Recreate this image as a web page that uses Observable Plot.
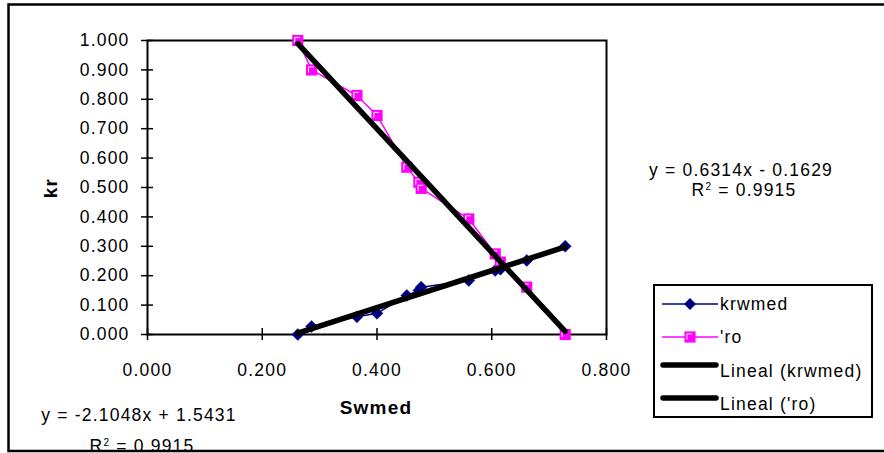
<!DOCTYPE html>
<html>
<head>
<meta charset="utf-8">
<script src="https://cdn.jsdelivr.net/npm/d3@7"></script>
<script src="https://cdn.jsdelivr.net/npm/@observablehq/plot@0.6"></script>
<style>
  html, body { margin: 0; padding: 0; background: #fff; }
  #chart { position: relative; width: 884px; height: 453px; }
</style>
</head>
<body>
<div id="chart"></div>
<script>
// ---- data ----
const swmed  = [0.262, 0.286, 0.365, 0.400, 0.452, 0.473, 0.477, 0.560, 0.606, 0.615, 0.661, 0.728];
const krwmed = [0.000, 0.027, 0.060, 0.072, 0.133, 0.150, 0.161, 0.184, 0.218, 0.222, 0.252, 0.300];
const kro    = [1.000, 0.900, 0.813, 0.745, 0.569, 0.518, 0.497, 0.393, 0.274, 0.246, 0.161, 0.000];
const xTicks = [0, 0.2, 0.4, 0.6, 0.8];
const yTicks = [0, 0.1, 0.2, 0.3, 0.4, 0.5, 0.6, 0.7, 0.8, 0.9, 1.0];
const seriesNames = ["krwmed", "'ro", "Lineal (krwmed)", "Lineal ('ro)"];
const eqKrw = ["y = 0.6314x - 0.1629", "0.9915"];
const eqRo  = ["y = -2.1048x + 1.5431", "0.9915"];

const krwData = swmed.map((x, i) => ({x, y: krwmed[i]}));
const roData  = swmed.map((x, i) => ({x, y: kro[i]}));

const NAVY = "#000080", MAG = "#ff00ff";
const FONT = "'Liberation Sans', Arial, sans-serif";

const gamma = {
  draw(ctx, size) {
    const s = Math.sqrt(size) / 2;
    ctx.moveTo(-s + 2.5, s - 3);
    ctx.lineTo(-s + 2.5, -s + 2.5);
    ctx.lineTo(s - 3.5, -s + 2.5);
  }
};

const plot = Plot.plot({
  width: 884,
  height: 453,
  marginLeft: 147,
  marginRight: 278,
  marginTop: 40,
  marginBottom: 119,
  style: {fontFamily: FONT, fontSize: "17.5px", letterSpacing: "1.2px", color: "#000", background: "#fff"},
  x: {domain: [0, 0.8]},
  y: {domain: [0, 1]},
  marks: [
    Plot.frame({stroke: "#000", strokeWidth: 2}),
    Plot.axisY({ticks: yTicks, tickFormat: d3.format(".3f"), tickSize: 6, tickPadding: 12, label: null, strokeWidth: 1.5}),
    Plot.axisY({ticks: yTicks, tickFormat: null, text: null, tickSize: 6, dx: 6, label: null, strokeWidth: 1.5}),
    Plot.axisX({ticks: xTicks, tickFormat: d3.format(".3f"), tickSize: 6, tickPadding: 23, label: null, strokeWidth: 1.5}),
    Plot.axisX({ticks: xTicks, tickFormat: null, text: null, tickSize: 6, dy: -6, label: null, strokeWidth: 1.5}),
    Plot.line(krwData, {x: "x", y: "y", stroke: NAVY, strokeWidth: 1.5}),
    Plot.dot(krwData, {x: "x", y: "y", symbol: "diamond2", r: 5.4, fill: NAVY, stroke: NAVY, strokeWidth: 0.5}),
    Plot.line(roData, {x: "x", y: "y", stroke: MAG, strokeWidth: 1.5}),
    Plot.dot(roData, {x: "x", y: "y", symbol: "square", r: 6.3, fill: MAG}),
    Plot.dot(roData, {x: "x", y: "y", symbol: gamma, r: 6.3, fill: "none", stroke: "#fff", strokeWidth: 1}),
    Plot.linearRegressionY(krwData, {x: "x", y: "y", stroke: "#000", strokeWidth: 5.5, ci: 0, strokeLinecap: "round"}),
    Plot.linearRegressionY(roData, {x: "x", y: "y", stroke: "#000", strokeWidth: 5.5, ci: 0, strokeLinecap: "round"})
  ]
});

document.getElementById("chart").appendChild(plot);

const svg = d3.select(plot);
const txt = (x, y, s, opts = {}) => {
  const t = svg.append("text")
    .attr("x", x).attr("y", y)
    .attr("font-family", FONT)
    .attr("font-size", opts.size || "17.5px")
    .attr("letter-spacing", "1.2px")
    .attr("font-weight", opts.bold ? "bold" : "normal")
    .attr("text-anchor", opts.anchor || "start")
    .attr("fill", "#000");
  if (opts.rotate) t.attr("transform", `rotate(-90 ${x} ${y})`);
  t.text(s);
  return t;
};

// axis titles
txt(376, 414, "Swmed", {bold: true, anchor: "middle", size: "19px"});
txt(57, 188, "kr", {bold: true, anchor: "middle", size: "19px", rotate: true});

// trendline equations
txt(741, 176, eqKrw[0], {anchor: "middle"});
const r1 = txt(744, 196, "", {anchor: "middle"});
r1.append("tspan").text("R");
r1.append("tspan").attr("dy", -6).attr("font-size", "10px").text("2");
r1.append("tspan").attr("dy", 6).text(" = " + eqKrw[1]);

txt(139, 421, eqRo[0], {anchor: "middle"});
const r2 = txt(142, 452, "", {anchor: "middle"});
r2.append("tspan").text("R");
r2.append("tspan").attr("dy", -6).attr("font-size", "10px").text("2");
r2.append("tspan").attr("dy", 6).text(" = " + eqRo[1]);

// legend
const lg = svg.append("g");
lg.append("rect").attr("x", 654).attr("y", 285).attr("width", 218).attr("height", 132)
  .attr("fill", "#fff").attr("stroke", "#000").attr("stroke-width", 2);
const rowsY = [304, 337, 370, 403];
// krwmed
lg.append("line").attr("x1", 662).attr("x2", 718).attr("y1", rowsY[0]).attr("y2", rowsY[0]).attr("stroke", NAVY).attr("stroke-width", 1.5);
lg.append("path").attr("d", d3.symbol(d3.symbolDiamond2, Math.PI * 5.4 * 5.4)()).attr("transform", `translate(690,${rowsY[0]})`).attr("fill", NAVY);
// 'ro
lg.append("line").attr("x1", 662).attr("x2", 718).attr("y1", rowsY[1]).attr("y2", rowsY[1]).attr("stroke", MAG).attr("stroke-width", 1.5);
lg.append("path").attr("d", d3.symbol(d3.symbolSquare, Math.PI * 6.3 * 6.3)()).attr("transform", `translate(690,${rowsY[1]})`).attr("fill", MAG);
lg.append("path").attr("d", d3.symbol(gamma, Math.PI * 6.3 * 6.3)()).attr("transform", `translate(690,${rowsY[1]})`).attr("fill", "none").attr("stroke", "#fff");
// trend lines
[2, 3].forEach(i => {
  lg.append("line").attr("x1", 663).attr("x2", 716).attr("y1", rowsY[i] - 5).attr("y2", rowsY[i] - 5)
    .attr("stroke", "#000").attr("stroke-width", 5.5).attr("stroke-linecap", "round");
});
seriesNames.forEach((n, i) => {
  txt(720, rowsY[i] + (i >= 2 ? 7 : 6), n);
});

// outer chart frame
svg.append("path").attr("d", "M886,4.5 L8.5,4.5 L8.5,451 L886,451")
  .attr("fill", "none").attr("stroke", "#000").attr("stroke-width", 2.5);
</script>
</body>
</html>
